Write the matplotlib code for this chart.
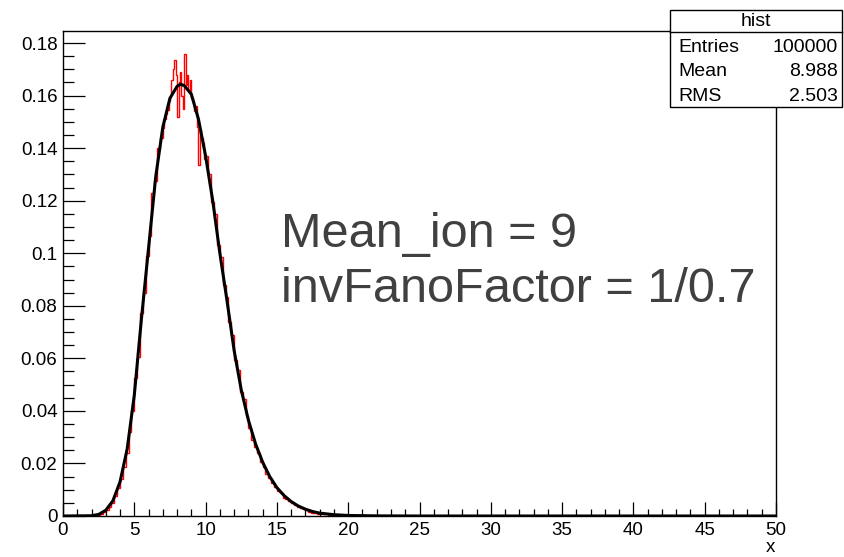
import numpy as np
import matplotlib
matplotlib.use("Agg")
import matplotlib.pyplot as plt
from matplotlib.ticker import MultipleLocator, FixedLocator
from matplotlib.patches import Rectangle
from matplotlib.lines import Line2D

plt.rcParams['font.family'] = ['Liberation Sans', 'DejaVu Sans']

# red histogram (finer bins around the peak)
red_left = [0.0001, 0.0002, 0.0005, 0.0009, 0.0015, 0.0021, 0.0035, 0.0050, 0.0075, 0.0105,
            0.0140, 0.0188, 0.0240, 0.0318, 0.0400, 0.0525, 0.0605, 0.0772, 0.0850, 0.0990,
            0.1065, 0.1230, 0.1275, 0.1400, 0.1440]
red_peak = [0.1475, 0.1510, 0.1530, 0.1545, 0.1580, 0.1600, 0.1660, 0.1700, 0.1736, 0.1680,
            0.1520, 0.1650, 0.1690, 0.1600, 0.1550, 0.1760, 0.1640, 0.1680, 0.1620, 0.1660,
            0.1590, 0.1580, 0.1540, 0.1560, 0.1480, 0.1335, 0.1470, 0.1440, 0.1420, 0.1360]
red_right = [0.1370, 0.1300, 0.1195, 0.1150, 0.1030, 0.0985, 0.0880, 0.0835, 0.0740, 0.0690,
             0.0595, 0.0555, 0.0470, 0.0445, 0.0380, 0.0335, 0.0290, 0.0262, 0.0240, 0.0205,
             0.0185, 0.0160, 0.0145, 0.0125, 0.0112, 0.0094, 0.0086, 0.0070, 0.0064, 0.0056,
             0.0048, 0.0043, 0.0034, 0.0031, 0.0025, 0.0021, 0.0016, 0.0012, 0.0011, 0.0009,
             0.0007, 0.0008, 0.0006, 0.0005, 0.0004, 0.0004, 0.0003, 0.0002, 0.0002, 0.0001]
red_edges = np.concatenate([np.linspace(2, 7, 26)[:-1],
                            np.linspace(7, 10, 31)[:-1],
                            np.linspace(10, 20, 51)])
red_vals = np.array(red_left + red_peak + red_right)

# black curve
curve_x = [0.0, 2.0, 2.5, 3.0, 3.5, 4.0, 4.5, 5.0, 5.5, 6.0, 6.5, 7.0, 7.5, 8.0, 8.25, 8.5,
           9.0, 9.5, 10.0, 10.5, 11.0, 11.5, 12.0, 12.5, 13.0, 13.5, 14.0, 14.5, 15.0, 15.5,
           16.0, 16.5, 17.0, 17.5, 18.0, 19.0, 20.0, 22.0, 25.0, 50.0]
curve_y = [0.0, 0.0001, 0.0006, 0.0022, 0.0058, 0.0130, 0.0255, 0.0460, 0.0750, 0.1020,
           0.1290, 0.1480, 0.1590, 0.1635, 0.1643, 0.1638, 0.1605, 0.1510, 0.1370, 0.1200,
           0.1000, 0.0820, 0.0630, 0.0480, 0.0365, 0.0275, 0.0205, 0.0150, 0.0108, 0.0078,
           0.0055, 0.0038, 0.0026, 0.0017, 0.0011, 0.0005, 0.0002, 0.00005, 0.0, 0.0]

y_ticks = [0, 0.02, 0.04, 0.06, 0.08, 0.1, 0.12, 0.14, 0.16, 0.18]
y_labels = ['0', '0.02', '0.04', '0.06', '0.08', '0.1', '0.12', '0.14', '0.16', '0.18']

stats_rows = [("Entries", "100000"), ("Mean", "8.988"), ("RMS", "2.503")]

W, H = 844, 557
fig = plt.figure(figsize=(W / 100, H / 100), dpi=100)
ax = fig.add_axes([63 / W, 1 - 516 / H, 713 / W, 485 / H])

ax.stairs(red_vals, red_edges, color='red', lw=1.0)
ax.plot(curve_x, curve_y, color='black', lw=2.2, solid_joinstyle='round')

ax.set_xlim(0, 50)
ax.set_ylim(0, 0.18 * 485 / 473)

ax.xaxis.set_major_locator(MultipleLocator(5))
ax.xaxis.set_minor_locator(MultipleLocator(1))
ax.yaxis.set_major_locator(FixedLocator(y_ticks))
ax.set_yticklabels(y_labels)
ax.yaxis.set_minor_locator(MultipleLocator(0.005))

ax.tick_params(which='both', direction='in', top=False, right=False,
               labelsize=13.5, width=0.9, color='black')
ax.tick_params(axis='x', which='major', length=10.4, pad=4)
ax.tick_params(axis='x', which='minor', length=5)
ax.tick_params(axis='y', which='major', length=15.8, pad=4)
ax.tick_params(axis='y', which='minor', length=7.9)
for s in ax.spines.values():
    s.set_linewidth(1.0)

fig.text(775 / W, 1 - 548 / H, 'x', ha='right', va='center', fontsize=13.5)

# annotation
fig.text(281 / W, 1 - 247 / H, 'Mean_ion = 9', fontsize=35, color='#404040',
         ha='left', va='baseline')
fig.text(281 / W, 1 - 302 / H, 'invFanoFactor = 1/0.7', fontsize=35, color='#404040',
         ha='left', va='baseline')

# stats box
bx0, bx1, by0, by1, bdiv = 670, 842, 10, 107, 32
fig.patches.append(Rectangle((bx0 / W, 1 - by1 / H), (bx1 - bx0) / W, (by1 - by0) / H,
                             transform=fig.transFigure, facecolor='white',
                             edgecolor='black', lw=1.0))
fig.lines.append(Line2D([bx0 / W, bx1 / W], [1 - bdiv / H, 1 - bdiv / H],
                        transform=fig.transFigure, color='black', lw=1.0))
fig.text((bx0 + bx1) / 2 / W, 1 - 21 / H, 'hist', ha='center', va='center', fontsize=14)
for i, (name, val) in enumerate(stats_rows):
    yy = 1 - (47 + 24.5 * i) / H
    fig.text(678 / W, yy, name, ha='left', va='center', fontsize=14)
    fig.text(838 / W, yy, val, ha='right', va='center', fontsize=14)

fig.savefig('out.png', dpi=100)
